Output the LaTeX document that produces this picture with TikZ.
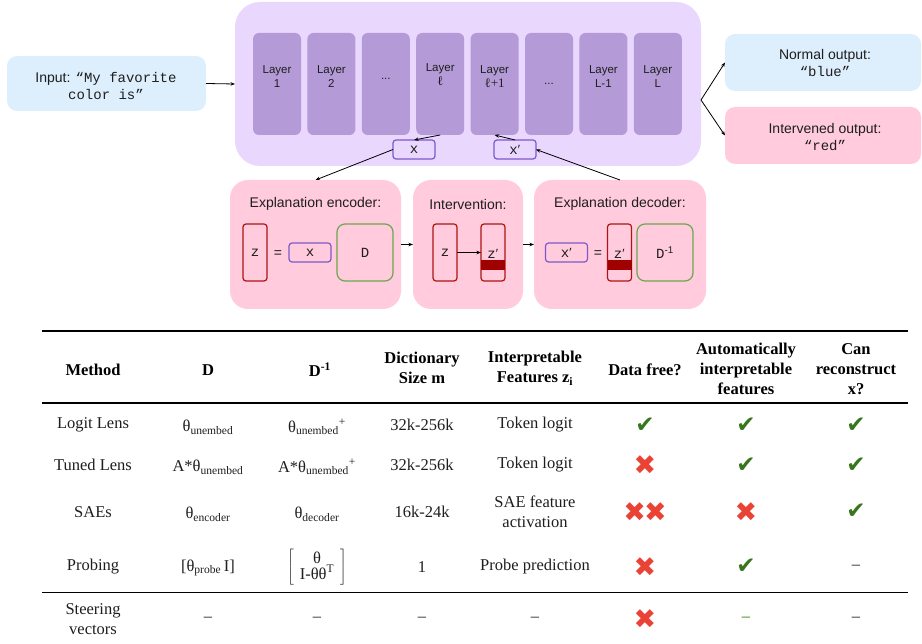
\documentclass[tikz,border=0pt]{standalone}
\usepackage{fontspec}
\setmainfont{Liberation Serif}
\setsansfont{Liberation Sans}
\setmonofont{Liberation Mono}
\newfontfamily\symf{DejaVu Sans}
\usetikzlibrary{arrows.meta}
\definecolor{inblue}{RGB}{221,238,253}
\definecolor{lav}{RGB}{233,215,254}
\definecolor{layerc}{RGB}{180,155,215}
\definecolor{pinkc}{RGB}{255,203,221}
\definecolor{redb}{RGB}{175,20,20}
\definecolor{band}{RGB}{160,0,0}
\definecolor{purb}{RGB}{125,90,200}
\definecolor{greenb}{RGB}{106,168,79}
\definecolor{chk}{RGB}{56,118,29}
\definecolor{crs}{RGB}{234,67,53}
\definecolor{txt}{RGB}{30,30,30}
\newcommand\prm{{\rmfamily ′}}
\tikzset{
  sz/.style 2 args={minimum width=#1, minimum height=#2},
  arr/.style={-{Stealth[length=4.5pt,width=3.5pt]}, line width=0.8pt, draw=black},
  sans/.style={font=\fontsize{14}{17}\selectfont\sffamily, text=txt, align=center},
  mono/.style={font=\fontsize{14}{17}\selectfont\ttfamily, text=txt, align=center},
  laylbl/.style={font=\fontsize{11.5}{14}\selectfont\sffamily, text=txt, align=center},
  layerbox/.style={fill=layerc, rounded corners=6pt, sz={48pt}{102pt}},
  vecbox/.style={draw=redb, line width=1.2pt, fill=pinkc, rounded corners=3pt, sz={24pt}{57pt}},
  xbox/.style={draw=purb, line width=1.2pt, fill=lav, rounded corners=3pt, sz={42pt}{19pt}},
  xboxp/.style={draw=purb, line width=1.2pt, fill=pinkc, rounded corners=3pt, sz={42pt}{19pt}},
  dbox/.style={draw=greenb, line width=1.2pt, fill=pinkc, rounded corners=8pt, sz={56pt}{57pt}},
  panel/.style={fill=pinkc, rounded corners=18pt},
  tb/.style={font=\fontsize{16.5}{20}\selectfont, text=txt, align=center},
  th/.style={font=\fontsize{16.5}{20}\selectfont\bfseries, text=black, align=center},
  ck/.style={font=\fontsize{23}{24}\selectfont\symf, text=chk},
  cr/.style={font=\fontsize{27}{28}\selectfont\symf, text=crs},
}
\begin{document}
\begin{tikzpicture}[x=1pt,y=-1pt, every node/.style={inner sep=0pt, outer sep=0pt}]
\useasboundingbox (0,0) rectangle (922,644);

% ---------- top diagram ----------
\node[fill=inblue, rounded corners=10pt, sz={199pt}{55pt}] (inp) at (106.5,83.5) {};
\node[sans] (inpt) at (106,86) {Input: {\ttfamily “My favorite}\\{\ttfamily color is”}};

\node[fill=lav, rounded corners=25pt, sz={466pt}{164pt}] (big) at (468,84) {};

\foreach \i in {0,...,7}{
  \node[layerbox] (L\i) at ({277+54.4*\i},84) {};
}
\node[laylbl] (T0) at (L0 |- 0,77) {Layer\\1};
\node[laylbl] (T1) at (L1 |- 0,77) {Layer\\2};
\node[laylbl] (T2) at (L2 |- 0,79) {...};
\node[laylbl] (T3) at (L3 |- 0,75) {Layer\\{\rmfamily\fontsize{13}{14}\selectfont ℓ}};
\node[laylbl] (T4) at (L4 |- 0,77) {Layer\\{\rmfamily\fontsize{13}{14}\selectfont ℓ+1}};
\node[laylbl] (T5) at (L5 |- 0,84) {...};
\node[laylbl] (T6) at (L6 |- 0,77) {Layer\\L-1};
\node[laylbl] (T7) at (L7 |- 0,77) {Layer\\L};

\node[xbox, mono] (xb) at (414,149.5) {x};
\node[xbox, mono] (xpb) at (515,149.5) {x\prm};

\draw[arr] (inp.east) -- (big.west);
\draw[arr] (L3.south) -- (xb.north);
\draw[arr] (xpb.north) -- (L4.south);

% outputs
\node[fill=inblue, rounded corners=10pt, sz={196pt}{57pt}] (out1) at (823,62.5) {};
\node[sans] (out1t) at (825,63) {Normal output:\\{\ttfamily “blue”}};
\node[fill=pinkc, rounded corners=10pt, sz={196pt}{57pt}] (out2) at (823,135.5) {};
\node[sans] (out2t) at (825,137) {Intervened output:\\{\ttfamily “red”}};
\coordinate (fork) at (701,100);
\draw[arr] (fork) -- (out1.west);
\draw[arr] (fork) -- (out2.west);

% ---------- bottom panels ----------
\node[panel, sz={171pt}{129pt}] (enc) at (315.5,244.5) {};
\node[panel, sz={110pt}{129pt}] (int) at (468,244.5) {};
\node[panel, sz={172pt}{129pt}] (dec) at (620,244.5) {};
\node[sans] (enct) at (enc |- 0,204) {Explanation encoder:};
\node[sans] (intt) at (int |- 0,204) {Intervention:};
\node[sans] (dect) at (dec |- 0,204) {Explanation decoder:};

\draw[arr] (xb.west) -- (enc.north);
\draw[arr] (dec.north) -- (xpb.east);
\draw[arr] (enc.east) -- (int.west);
\draw[arr] (int.east) -- (dec.west);

% encoder
\node[vecbox, mono] (ez) at (255,252.5) {z};
\node[sans] (eeq) at (278,254) {=};
\node[xboxp, mono] (ex) at (310,252.5) {x};
\node[dbox, mono] (eD) at (365,252.5) {D};

% intervention
\node[vecbox, mono] (iz) at (445,252.5) {z};
\node[vecbox] (izp) at (493,252.5) {};
\fill[band] (izp.west |- 0,260) rectangle (izp.east |- 0,270);
\node[mono] (izpt) at (493,254) {z\prm};
\draw[arr] (iz.east) -- (izp.west);

% decoder
\node[xboxp, mono] (dx) at (566.5,252.5) {x\prm};
\node[sans] (deq) at (598,254) {=};
\node[vecbox] (dz) at (619.5,252.5) {};
\fill[band] (dz.west |- 0,260) rectangle (dz.east |- 0,270);
\node[mono] (dzt) at (619.5,254) {z\prm};
\node[dbox, mono] (dD) at (665,252.5) {D\textsuperscript{\sffamily -1}};

% ---------- table ----------
\draw[line width=1.6pt, black] (42,331) -- (908,331);
\draw[line width=1.2pt, black] (42,403) -- (908,403);
\draw[line width=1pt, black] (42,592) -- (908,592);

\node[th] (h1) at (93,370) {Method};
\node[th] (h2) at (208,370) {D};
\node[th] (h3) at (320,370) {D\textsuperscript{-1}};
\node[th] (h4) at (422,368) {Dictionary\\Size m};
\node[th] (h5) at (535,368) {Interpretable\\Features z\textsubscript{i}};
\node[th] (h6) at (645,370) {Data free?};
\node[th] (h7) at (746,369) {Automatically\\interpretable\\features};
\node[th] (h8) at (856,369) {Can\\reconstruct\\x?};

% row 1
\node[tb] (a1) at (93,425) {Logit Lens};
\node[tb] (a2) at (208,427) {θ\textsubscript{unembed}};
\node[tb] (a3) at (317,427) {θ\textsubscript{unembed}\textsuperscript{+}};
\node[tb] (a4) at (422,425) {32k-256k};
\node[tb] (a5) at (535,425) {Token logit};
\node[ck] (a6) at (645,425) {✔};
\node[ck] (a7) at (746,425) {✔};
\node[ck] (a8) at (856,425) {✔};
% row 2
\node[tb] (b1) at (93,465) {Tuned Lens};
\node[tb] (b2) at (208,467) {A*θ\textsubscript{unembed}};
\node[tb] (b3) at (317,467) {A*θ\textsubscript{unembed}\textsuperscript{+}};
\node[tb] (b4) at (422,465) {32k-256k};
\node[tb] (b5) at (535,465) {Token logit};
\node[cr] (b6) at (645,465) {✖};
\node[ck] (b7) at (746,465) {✔};
\node[ck] (b8) at (856,465) {✔};
% row 3
\node[tb] (c1) at (93,512) {SAEs};
\node[tb] (c2) at (208,514) {θ\textsubscript{encoder}};
\node[tb] (c3) at (317,514) {θ\textsubscript{decoder}};
\node[tb] (c4) at (422,512) {16k-24k};
\node[tb] (c5) at (535,512) {SAE feature\\activation};
\node[cr] (c6) at (645,512) {✖\kern-2pt✖};
\node[cr] (c7) at (746,512) {✖};
\node[ck] (c8) at (856,511) {✔};
% row 4
\node[tb] (d1) at (93,567) {Probing};
\node[tb] (d2) at (208,568) {[θ\textsubscript{probe}\,I]};
\node[tb] (d3) at (317,567) {$\left[\hbox{\begin{tabular}{@{\hspace{6pt}}c@{\hspace{6pt}}}θ\\[-4pt]I-θθ\textsuperscript{T}\end{tabular}}\right]$};
\node[tb] (d4) at (422,567) {1};
\node[tb] (d5) at (535,567) {Probe prediction};
\node[cr] (d6) at (645,567) {✖};
\node[ck] (d7) at (746,566) {✔};
\node[tb] (d8) at (856,567) {–};
% row 5
\node[tb] (e1) at (93,619) {Steering\\vectors};
\node[tb] (e2) at (208,619) {–};
\node[tb] (e3) at (317,619) {–};
\node[tb] (e4) at (422,619) {–};
\node[tb] (e5) at (535,619) {–};
\node[cr] (e6) at (645,619) {✖};
\node[tb, text=greenb, font=\fontsize{16.5}{20}\selectfont\bfseries] (e7) at (746,619) {–};
\node[tb] (e8) at (856,619) {–};
\end{tikzpicture}
\end{document}
